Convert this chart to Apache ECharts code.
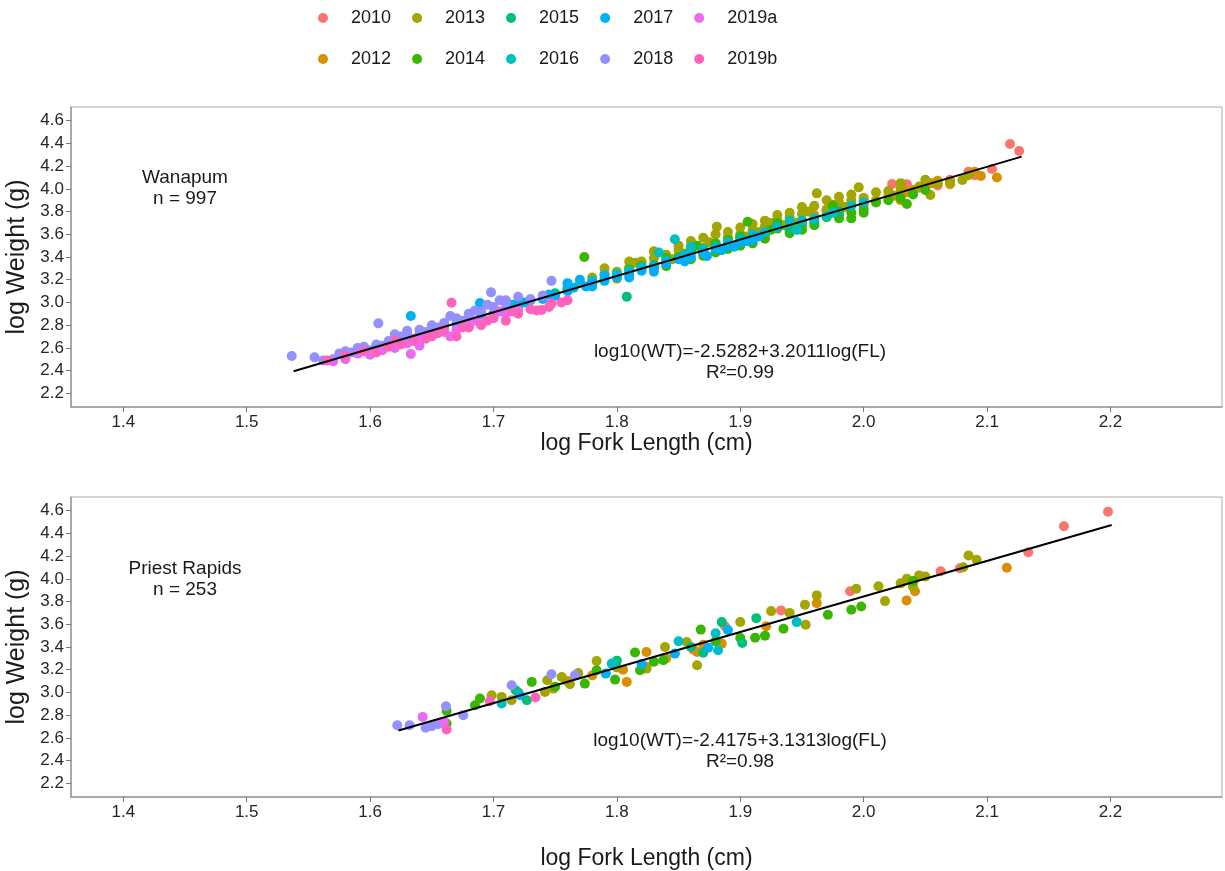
<!DOCTYPE html>
<html><head><meta charset="utf-8">
<script src="https://cdn.jsdelivr.net/npm/echarts@6/dist/echarts.min.js"></script>
<style>html,body{margin:0;padding:0;background:#fff}#chart{width:1225px;height:871px}</style>
</head><body><div id="chart"></div>
<script>
const years = ['2010','2012','2013','2014','2015','2016','2017','2018','2019a','2019b'];
const colors = ['#F8766D','#D89000','#A3A500','#39B600','#00BF7D','#00BFC4','#00B0F6','#9590FF','#E76BF3','#FF62BC'];
const legendRow1 = ['2010','2013','2015','2017','2019a'];
const legendRow2 = ['2012','2014','2016','2018','2019b'];
const xTicks = [1.4,1.5,1.6,1.7,1.8,1.9,2.0,2.1,2.2];
const yTicks = [2.2,2.4,2.6,2.8,3.0,3.2,3.4,3.6,3.8,4.0,4.2,4.4,4.6];
const xTitle = 'log Fork Length (cm)';
const yTitle = 'log Weight (g)';

// Wanapum (top panel)
const wan2010 = [[1.93,3.67],[1.97,3.80],[2.00,3.90],[2.023,4.043],[2.03,3.96],[2.035,4.04],[2.045,4.01],[2.05,4.05],[2.06,4.03],[2.07,4.08],[2.085,4.15],[2.09,4.12],[2.104,4.175],[2.1186,4.395],[2.126,4.333]];
const wan2012 = [[1.78,3.17],[1.80,3.21],[1.82,3.30],[1.84,3.35],[1.85,3.41],[1.86,3.45],[1.87,3.46],[1.88,3.49],[1.88,3.52],[1.90,3.55],[1.92,3.61],[1.92,3.64],[1.94,3.69],[1.95,3.72],[1.96,3.77],[1.97,3.81],[1.98,3.83],[1.99,3.86],[2.00,3.86],[2.01,3.90],[2.02,3.93],[2.03,3.90],[2.035,3.97],[2.04,3.99],[2.05,4.03],[2.055,4.05],[2.06,4.07],[2.07,4.04],[2.09,4.15],[2.095,4.113],[2.108,4.10]];
const wan2013 = [[1.72,3.00],[1.74,3.05],[1.76,3.14],[1.77,3.18],[1.78,3.22],[1.79,3.25],[1.79,3.30],[1.80,3.27],[1.81,3.31],[1.81,3.36],[1.815,3.35],[1.82,3.36],[1.83,3.39],[1.83,3.45],[1.84,3.42],[1.845,3.38],[1.85,3.46],[1.85,3.50],[1.855,3.43],[1.86,3.49],[1.86,3.54],[1.87,3.48],[1.87,3.57],[1.875,3.53],[1.88,3.60],[1.881,3.667],[1.89,3.57],[1.89,3.62],[1.90,3.60],[1.90,3.66],[1.905,3.58],[1.91,3.64],[1.91,3.69],[1.915,3.62],[1.92,3.67],[1.92,3.72],[1.925,3.70],[1.93,3.72],[1.93,3.77],[1.935,3.68],[1.94,3.75],[1.94,3.79],[1.945,3.70],[1.95,3.78],[1.95,3.84],[1.955,3.80],[1.96,3.85],[1.962,3.96],[1.97,3.82],[1.97,3.90],[1.975,3.86],[1.98,3.88],[1.98,3.93],[1.985,3.84],[1.99,3.90],[1.99,3.95],[1.996,4.013],[2.00,3.92],[2.01,3.97],[2.02,3.98],[2.025,3.94],[2.03,4.00],[2.03,4.05],[2.04,3.97],[2.045,4.02],[2.05,4.08],[2.054,3.946],[2.06,4.05],[2.07,4.06],[2.08,4.078],[2.085,4.12]];
const wan2014 = [[1.72,2.98],[1.74,3.06],[1.76,3.11],[1.7736,3.40],[1.78,3.16],[1.80,3.23],[1.81,3.29],[1.82,3.32],[1.83,3.30],[1.84,3.32],[1.84,3.39],[1.85,3.40],[1.86,3.38],[1.86,3.46],[1.865,3.50],[1.87,3.41],[1.87,3.44],[1.88,3.44],[1.88,3.52],[1.89,3.47],[1.89,3.55],[1.90,3.50],[1.90,3.58],[1.906,3.71],[1.91,3.52],[1.91,3.56],[1.92,3.56],[1.92,3.60],[1.925,3.64],[1.93,3.65],[1.93,3.70],[1.94,3.61],[1.94,3.63],[1.95,3.64],[1.95,3.68],[1.96,3.68],[1.96,3.70],[1.97,3.75],[1.975,3.85],[1.98,3.74],[1.98,3.77],[1.99,3.74],[1.99,3.79],[2.00,3.79],[2.00,3.82],[2.01,3.88],[2.02,3.90],[2.03,3.92],[2.035,3.867],[2.04,3.95],[2.05,3.99]];
const wan2015 = [[1.75,3.08],[1.79,3.21],[1.808,3.051],[1.83,3.33],[1.86,3.44],[1.88,3.50],[1.90,3.57],[1.93,3.67],[1.94,3.65],[1.95,3.71],[1.96,3.72],[1.98,3.80]];
const wan2016 = [[1.76,3.12],[1.78,3.19],[1.80,3.25],[1.81,3.28],[1.82,3.31],[1.834,3.44],[1.84,3.37],[1.847,3.556],[1.855,3.42],[1.86,3.49],[1.87,3.47],[1.89,3.53],[1.91,3.60],[1.92,3.62],[1.93,3.66],[1.94,3.72],[1.946,3.638],[1.95,3.72],[1.96,3.74],[1.97,3.76],[1.975,3.79],[1.99,3.85],[2.00,3.88]];
const wan2017 = [[1.62,2.64],[1.633,2.881],[1.64,2.70],[1.65,2.74],[1.66,2.77],[1.67,2.81],[1.68,2.84],[1.689,2.995],[1.69,2.88],[1.70,2.90],[1.71,2.94],[1.715,2.98],[1.72,2.96],[1.725,3.00],[1.73,3.02],[1.74,3.03],[1.745,3.07],[1.75,3.06],[1.76,3.10],[1.76,3.17],[1.765,3.13],[1.77,3.20],[1.775,3.14],[1.78,3.14],[1.78,3.17],[1.79,3.19],[1.79,3.24],[1.80,3.22],[1.81,3.22],[1.81,3.25],[1.82,3.28],[1.83,3.27],[1.83,3.31],[1.84,3.34],[1.85,3.38],[1.855,3.36],[1.86,3.40],[1.87,3.44],[1.873,3.409],[1.88,3.47],[1.885,3.46],[1.89,3.50],[1.895,3.49],[1.90,3.53],[1.905,3.54],[1.91,3.55],[1.915,3.58]];
const wan2018 = [[1.5365,2.529],[1.555,2.517],[1.562,2.49],[1.57,2.50],[1.575,2.55],[1.58,2.57],[1.585,2.56],[1.59,2.60],[1.595,2.61],[1.60,2.58],[1.605,2.63],[1.6067,2.816],[1.61,2.62],[1.615,2.66],[1.62,2.68],[1.62,2.72],[1.625,2.70],[1.63,2.72],[1.63,2.75],[1.635,2.68],[1.64,2.72],[1.64,2.76],[1.645,2.74],[1.65,2.80],[1.655,2.78],[1.66,2.80],[1.66,2.82],[1.665,2.88],[1.67,2.86],[1.675,2.84],[1.68,2.88],[1.68,2.90],[1.685,2.93],[1.69,2.92],[1.695,2.98],[1.698,3.089],[1.70,2.96],[1.705,3.02],[1.71,2.99],[1.71,3.02],[1.72,3.05],[1.73,3.03],[1.74,3.06],[1.747,3.19]];
const wan2019a = [[1.57,2.48],[1.58,2.50],[1.59,2.55],[1.60,2.54],[1.61,2.58],[1.62,2.60],[1.63,2.64],[1.633,2.546],[1.64,2.62],[1.64,2.66],[1.645,2.70],[1.65,2.72],[1.66,2.74],[1.665,2.70],[1.67,2.76],[1.68,2.80],[1.685,2.84],[1.69,2.82],[1.70,2.86],[1.705,2.92],[1.71,2.90],[1.72,2.93]];
const wan2019b = [[1.565,2.49],[1.58,2.53],[1.595,2.57],[1.605,2.56],[1.615,2.61],[1.62,2.66],[1.625,2.63],[1.635,2.66],[1.645,2.68],[1.65,2.70],[1.655,2.73],[1.66,2.76],[1.666,2.998],[1.67,2.70],[1.675,2.78],[1.68,2.78],[1.69,2.80],[1.695,2.84],[1.70,2.87],[1.71,2.84],[1.715,2.92],[1.72,2.90],[1.73,2.94],[1.735,2.93],[1.739,2.933],[1.745,2.96],[1.747,2.99],[1.755,3.00],[1.76,3.02]];

// Priest Rapids (bottom panel)
const pr2010 = [[1.862,3.377],[1.8876,3.582],[1.933,3.722],[1.989,3.891],[2.0624,4.067],[2.078,4.093],[2.1334,4.234],[2.1623,4.462],[2.198,4.59]];
const pr2012 = [[1.7485,3.034],[1.76,3.10],[1.78,3.15],[1.805,3.20],[1.808,3.093],[1.824,3.356],[1.84,3.30],[1.865,3.356],[1.87,3.42],[1.885,3.43],[1.921,3.582],[1.962,3.786],[2.0348,3.81],[2.04,3.97],[2.0416,3.891],[2.116,4.097]];
const pr2013 = [[1.6985,2.976],[1.7066,2.961],[1.7147,2.932],[1.7417,3.005],[1.7436,3.107],[1.7553,3.136],[1.762,3.072],[1.7687,3.171],[1.7836,3.277],[1.80,3.22],[1.824,3.21],[1.824,3.224],[1.839,3.40],[1.8566,3.444],[1.865,3.239],[1.90,3.62],[1.925,3.716],[1.94,3.70],[1.9524,3.772],[1.953,3.596],[1.962,3.854],[1.994,3.913],[2.012,3.935],[2.0173,3.804],[2.03,3.96],[2.035,4.00],[2.04,3.93],[2.045,4.03],[2.05,4.02],[2.0807,4.102],[2.085,4.205],[2.0916,4.167]];
const pr2014 = [[1.662,2.838],[1.662,2.727],[1.685,2.888],[1.689,2.947],[1.72,3.00],[1.731,3.093],[1.75,3.05],[1.774,3.078],[1.7836,3.195],[1.7985,3.113],[1.8147,3.351],[1.8187,3.195],[1.83,3.27],[1.8376,3.283],[1.868,3.553],[1.88,3.45],[1.90,3.48],[1.912,3.482],[1.92,3.50],[1.935,3.561],[1.971,3.684],[1.990,3.728],[1.998,3.757],[2.04,3.98]];
const pr2015 = [[1.718,3.02],[1.727,2.932],[1.80,3.28],[1.86,3.40],[1.87,3.35],[1.885,3.619],[1.9016,3.435],[1.913,3.654]];
const pr2016 = [[1.7066,2.903],[1.7958,3.254],[1.85,3.45],[1.88,3.52],[1.882,3.371],[1.9457,3.619]];
const pr2017 = [[1.7215,2.976],[1.791,3.166],[1.82,3.25],[1.847,3.342],[1.874,3.394],[1.89,3.55]];
const pr2018 = [[1.622,2.712],[1.632,2.712],[1.645,2.69],[1.650,2.704],[1.655,2.72],[1.6615,2.879],[1.6755,2.80],[1.7147,3.064],[1.747,3.16],[1.766,3.151]];
const pr2019a = [[1.6426,2.785],[1.66,2.74]];
const pr2019b = [[1.662,2.675],[1.697,2.923],[1.734,2.956]];

const fitWanapum = [[1.538,2.395],[2.128,4.283]];
const fitPriest = [[1.623,2.665],[2.201,4.474]];

const wanData = [wan2010,wan2012,wan2013,wan2014,wan2015,wan2016,wan2017,wan2018,wan2019a,wan2019b];
const prData = [pr2010,pr2012,pr2013,pr2014,pr2015,pr2016,pr2017,pr2018,pr2019a,pr2019b];

const FONT = '"Liberation Sans", Arial, sans-serif';
const chart = echarts.init(document.getElementById('chart'));

function xAxisCfg(gi, gap){
  return {
    type:'value', gridIndex:gi, min:1.3576, max:2.2904,
    name:xTitle, nameLocation:'middle', nameGap:gap,
    nameTextStyle:{fontSize:23, color:'#1a1a1a', fontFamily:FONT},
    axisLine:{show:true, onZero:false, lineStyle:{color:'#999', width:1.5}},
    axisTick:{show:true, length:5, customValues:xTicks, lineStyle:{color:'#777'}},
    axisLabel:{customValues:xTicks, formatter:v=>v.toFixed(1), fontSize:17, color:'#262626', fontFamily:FONT, margin:7},
    splitLine:{show:false}
  };
}
function yAxisCfg(gi){
  return {
    type:'value', gridIndex:gi, min:2.08, max:4.72,
    name:yTitle, nameLocation:'middle', nameGap:38,
    nameTextStyle:{fontSize:25, color:'#1a1a1a', fontFamily:FONT},
    axisLine:{show:true, onZero:false, lineStyle:{color:'#999', width:1.5}},
    axisTick:{show:true, length:5, customValues:yTicks, lineStyle:{color:'#777'}},
    axisLabel:{customValues:yTicks, formatter:v=>v.toFixed(1), fontSize:17, color:'#262626', fontFamily:FONT, margin:7},
    splitLine:{show:false}
  };
}

const series = [];
years.forEach((y,i)=>{
  series.push({type:'scatter', name:y, xAxisIndex:0, yAxisIndex:0, data:wanData[i], symbolSize:10, itemStyle:{color:colors[i], opacity:1}, z:2});
});
years.forEach((y,i)=>{
  series.push({type:'scatter', name:y, xAxisIndex:1, yAxisIndex:1, data:prData[i], symbolSize:10, itemStyle:{color:colors[i], opacity:1}, z:2});
});
series.push({type:'line', xAxisIndex:0, yAxisIndex:0, data:fitWanapum, symbol:'none', lineStyle:{color:'#000', width:2}, z:5, silent:true});
series.push({type:'line', xAxisIndex:1, yAxisIndex:1, data:fitPriest, symbol:'none', lineStyle:{color:'#000', width:2}, z:5, silent:true});

function legendCfg(row, top){
  return {
    data:row, top:top, left:313, orient:'horizontal', icon:'circle',
    itemWidth:10, itemHeight:10, itemGap:21, selectedMode:false,
    textStyle:{fontSize:18, color:'#1a1a1a', fontFamily:FONT, padding:[0,0,0,18]}
  };
}

function txt(text, x, y, size){
  return {type:'text', style:{text:text, x:x, y:y, align:'center', verticalAlign:'middle', fontSize:size, fontFamily:FONT, fill:'#1a1a1a', lineHeight:21}};
}

chart.setOption({
  animation:false,
  backgroundColor:'#fff',
  color:colors,
  legend:[legendCfg(legendRow1, 4), legendCfg(legendRow2, 45)],
  grid:[
    {left:71, right:3, top:107, height:300, show:true, borderColor:'#aaa', borderWidth:1, containLabel:false, outerBoundsMode:'none'},
    {left:71, right:3, top:497, height:300, show:true, borderColor:'#aaa', borderWidth:1, containLabel:false, outerBoundsMode:'none'}
  ],
  xAxis:[xAxisCfg(0, 24), xAxisCfg(1, 50)],
  yAxis:[yAxisCfg(0), yAxisCfg(1)],
  series:series,
  graphic:[
    txt('Wanapum\nn = 997', 185, 188, 19),
    txt('log10(WT)=-2.5282+3.2011log(FL)\nR²=0.99', 740, 362, 19),
    txt('Priest Rapids\nn = 253', 185, 579, 19),
    txt('log10(WT)=-2.4175+3.1313log(FL)\nR²=0.98', 740, 751, 19)
  ]
});
</script></body></html>
